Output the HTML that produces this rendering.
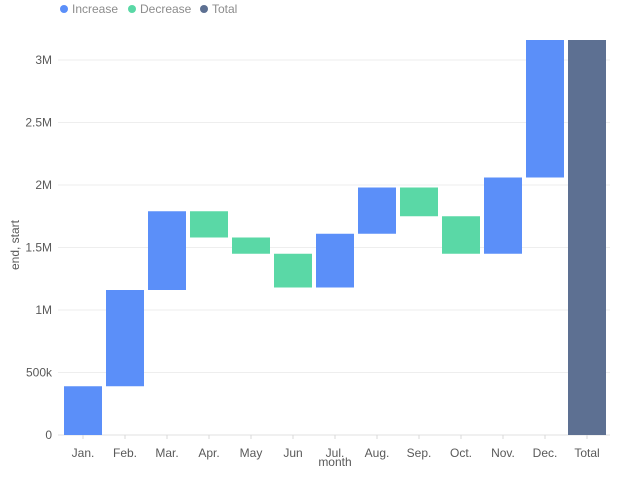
<!DOCTYPE html>
<html><head><meta charset="utf-8"><style>
body{margin:0;background:#fff;font-family:"Liberation Sans",sans-serif;}
svg text{font-family:"Liberation Sans",sans-serif;}
</style></head><body>
<svg id="chart" width="640" height="480">
<g id="legend">
<g><circle cx="64" cy="9" r="4" fill="#5B8FF9"/><text x="72" y="13" font-size="12" fill="#8c8c8c">Increase</text></g>
<g><circle cx="132" cy="9" r="4" fill="#5AD8A6"/><text x="140" y="13" font-size="12" fill="#8c8c8c">Decrease</text></g>
<g><circle cx="204" cy="9" r="4" fill="#5D7092"/><text x="212" y="13" font-size="12" fill="#8c8c8c">Total</text></g>
</g>
<text x="19" y="245" font-size="12" fill="#595959" text-anchor="middle" transform="rotate(-90 19 245)">end, start</text>
<text x="335" y="466" font-size="12" fill="#595959" text-anchor="middle">month</text>
<g id="grid"></g><g id="bars"></g><g id="xaxis"></g>
</svg>
<script>
const categories=["Jan.","Feb.","Mar.","Apr.","May","Jun","Jul.","Aug.","Sep.","Oct.","Nov.","Dec."];
const deltas=[390000,770000,630000,-210000,-130000,-270000,430000,370000,-230000,-300000,610000,1100000];
const totalLabel="Total";
const yTicks=[0,500000,1000000,1500000,2000000,2500000,3000000];
const yTickLabels=["0","500k","1M","1.5M","2M","2.5M","3M"];
const NS="http://www.w3.org/2000/svg";
const y0=435,pxPerUnit=125/1e6,left=62,step=42,barW=38;
function y(v){return y0-v*pxPerUnit;}
function xBand(i){return left+i*step+2;}
function mk(tag,attrs,parent){const e=document.createElementNS(NS,tag);for(const k in attrs)e.setAttribute(k,attrs[k]);parent.appendChild(e);return e;}
const grid=document.getElementById('grid'),bars=document.getElementById('bars'),xa=document.getElementById('xaxis');
yTicks.forEach((t,i)=>{
 const l=mk('line',{x1:58,x2:610,y1:y(t),y2:y(t),stroke:i==0?'#e0e0e0':'#eeeeee','stroke-width':1},grid);
 
 
 const tx=mk('text',{x:52,y:y(t)+4,'font-size':12,fill:'#595959','text-anchor':'end'},grid);
 tx.textContent=yTickLabels[i];
 
 
});
let run=0;
const allCats=categories.concat([totalLabel]);
deltas.forEach((d,i)=>{
 const s=run,e=run+d;run=e;
 const r=mk('rect',{x:xBand(i),width:barW,y:y(Math.max(s,e)),height:Math.abs(d)*pxPerUnit,fill:d>=0?'#5B8FF9':'#5AD8A6'},bars);
 
 
});
const tr=mk('rect',{x:xBand(categories.length),width:barW,y:y(run),height:run*pxPerUnit,fill:'#5D7092'},bars);


allCats.forEach((c,i)=>{
 const cx=xBand(i)+barW/2;
 mk('line',{x1:cx,x2:cx,y1:y0,y2:y0+4,stroke:'#d9d9d9'},xa);
 const t=mk('text',{x:cx,y:457,'font-size':12,fill:'#595959','text-anchor':'middle'},xa);
 t.textContent=c;
 
 
});
</script>
</body></html>
